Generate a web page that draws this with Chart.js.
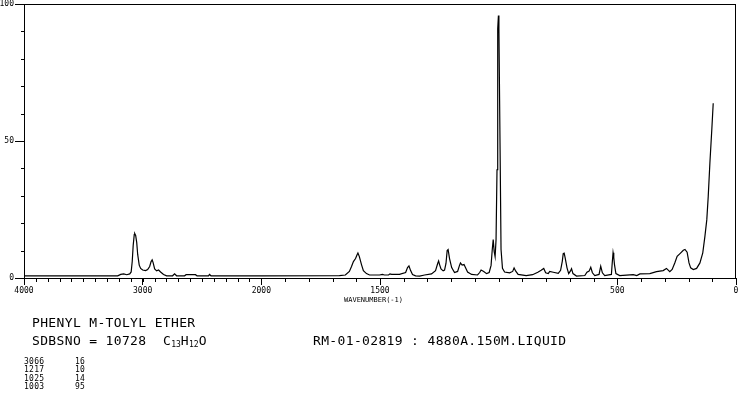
<!DOCTYPE html>
<html>
<head>
<meta charset="utf-8">
<script src="https://cdn.jsdelivr.net/npm/chart.js@4.4.1/dist/chart.umd.min.js"></script>
<style>
  body { margin: 0; background: #fff; width: 738px; height: 398px; overflow: hidden; position: relative; }
  #wrap { position: absolute; left: 0; top: 0; width: 738px; height: 300px; }
  .t { position: absolute; font-family: "DejaVu Sans Mono", monospace; color: #000; white-space: pre; line-height: 1; }
  .big { font-size: 13px; letter-spacing: 0.35px; }
  .small { font-size: 7px; }
  .tab { font-size: 8px; letter-spacing: 0.3px; }
  sub { font-size: 8px; vertical-align: -2px; line-height: 0; letter-spacing: 0; }
</style>
</head>
<body>
<div id="wrap"><canvas id="ramanChart"></canvas></div>
<div class="t small" style="left:344px; top:297px;">WAVENUMBER(-1)</div>
<div class="t big" style="left:32px; top:316px;">PHENYL M-TOLYL ETHER</div>
<div class="t big" style="left:32px; top:334px;">SDBSNO = 10728</div>
<div class="t big" style="left:163px; top:334px;">C<sub>13</sub>H<sub>12</sub>O</div>
<div class="t big" style="left:313px; top:334px;">RM-01-02819 : 4880A.150M.LIQUID</div>
<div id="peaks"></div>

<script>
// spectrum (wavenumber in cm-1, relative intensity)
const wavenumbers = [4000, 3210, 3185, 3160, 3134, 3109, 3097, 3088, 3080, 3071, 3067, 3059, 3050, 3042, 3029, 3017,
  3000, 2975, 2958, 2941, 2929, 2920, 2912, 2899, 2882, 2866, 2849, 2824, 2798, 2748, 2731, 2714, 2647, 2634, 2555,
  2542, 2445, 2437, 2424, 2000, 1671, 1646, 1629, 1620, 1612, 1603, 1597, 1593, 1587, 1578, 1570, 1557, 1544, 1502,
  1490, 1481, 1464, 1458, 1451, 1418, 1392, 1384, 1378, 1371, 1363, 1350, 1333, 1312, 1283, 1266, 1257, 1253, 1249,
  1243, 1234, 1228, 1222, 1217, 1213, 1207, 1198, 1186, 1173, 1165, 1161, 1154, 1146, 1140, 1131, 1114, 1089, 1080,
  1074, 1063, 1051, 1040, 1032, 1027, 1023, 1019, 1015, 1011, 1007, 1004, 1001, 999, 994, 990, 984, 975, 954, 941,
  935, 928, 918, 884, 857, 835, 821, 810, 802, 791, 785, 770, 749, 739, 732, 728, 724, 720, 712, 705, 698, 693, 687,
  672, 637, 628, 619, 612, 605, 595, 577, 570, 563, 553, 525, 522, 518, 515, 512, 506, 490, 433, 418, 405, 363, 335,
  307, 293, 279, 269, 258, 248, 236, 222, 215, 206, 198, 191, 180, 166, 152, 140, 131, 123, 117, 110, 102, 96];
const intensity = [0.8, 0.8, 1.3, 1.5, 1.2, 1.5, 2.2, 6.0, 11.8, 15.8, 16.2, 15.5, 12.9, 8.6, 4.7, 3.5,
  2.9, 2.7, 3.1, 4.2, 6.0, 6.6, 5.6, 3.3, 2.6, 2.9, 2.2, 1.3, 0.8, 0.8, 1.5, 0.8, 0.8, 1.2, 1.2,
  0.8, 0.8, 1.3, 0.8, 0.8, 0.9, 1.1, 2.4, 4.2, 6.0, 7.1, 8.4, 9.1, 7.8, 4.9, 2.7, 1.6, 1.1, 1.1,
  1.3, 1.1, 1.1, 1.5, 1.3, 1.3, 2.0, 3.8, 4.4, 2.7, 1.3, 0.8, 0.7, 1.1, 1.5, 2.7, 5.3, 6.2, 4.9,
  3.3, 2.6, 2.9, 5.3, 10.0, 10.4, 7.1, 3.8, 2.0, 2.4, 4.6, 5.5, 4.7, 4.9, 3.8, 2.2, 1.3, 1.1, 2.0,
  2.9, 2.4, 1.6, 2.0, 4.6, 10.4, 14.0, 9.7, 7.8, 14.0, 39.5, 91.0, 95.8, 91.0, 46.8, 10.4, 3.5, 2.2, 1.9, 2.4,
  3.7, 2.5, 1.3, 0.9, 1.2, 2.1, 2.8, 3.5, 1.9, 1.6, 2.4, 2.1, 1.7, 2.8, 6.1, 8.9, 9.1, 7.4, 3.7, 1.6, 2.5, 3.4, 1.6,
  0.7, 0.9, 2.1, 2.5, 3.9, 1.9, 0.9, 1.3, 4.3, 1.9, 0.9, 1.3, 4.9, 9.2, 7.5, 4.9, 1.6, 0.9, 1.2, 0.9, 1.5, 1.6, 2.3,
  2.7, 3.5, 2.3, 3.1, 5.5, 7.9, 8.9, 10.1, 10.4, 9.4, 5.5, 3.7, 3.1, 3.5, 5.5, 9.2, 15.2, 21.3, 29.8, 42.0, 54.1, 63.8];

// axis labels
const xMajorTicks = [4000, 3000, 2000, 1500, 500, 0];
const yMajorTicks = [0, 50, 100];

// peak table printed under the plot
const peakWn = ['3066', '1217', '1025', '1003'];
const peakInt = ['16', '10', '14', '95'];

// x axis is compressed by half above 2000 cm-1
class BreakScale extends Chart.LinearScale {
  static id = 'breakLinear';
  static defaults = Chart.LinearScale.defaults;
  getPixelForValue(v) {
    const u = v <= 2000 ? v : 2000 + (v - 2000) / 2;
    return this.getPixelForDecimal(1 - u / 3000);
  }
  getValueForPixel(p) {
    const u = (1 - (p - this._startPixel) / this._length) * 3000;
    return u <= 2000 ? u : 2000 + (u - 2000) * 2;
  }
}
Chart.register(BreakScale);

const peaks = document.getElementById('peaks');
peakWn.forEach((w, i) => {
  const top = 358 + i * 8.3;
  peaks.insertAdjacentHTML('beforeend',
    `<div class="t tab" style="left:24px; top:${top}px;">${w}</div>` +
    `<div class="t tab" style="left:75px; top:${top}px;">${peakInt[i]}</div>`);
});

// minor ticks and the top/right frame
const frameAndTicks = {
  id: 'frameAndTicks',
  afterDraw(chart) {
    const { ctx, chartArea: a, scales: { x, y } } = chart;
    ctx.save();
    ctx.strokeStyle = '#000';
    ctx.lineWidth = 1;
    ctx.beginPath();
    ctx.moveTo(a.left, Math.round(a.top) + 0.5);
    ctx.lineTo(a.right, Math.round(a.top) + 0.5);
    ctx.moveTo(Math.round(a.right) - 0.5, a.top);
    ctx.lineTo(Math.round(a.right) - 0.5, a.bottom);
    for (let v = 0; v <= 4000; v += 100) {
      const px = Math.round(x.getPixelForValue(v)) + 0.5;
      ctx.moveTo(px, a.bottom);
      ctx.lineTo(px, a.bottom + 4);
    }
    for (let v = 0; v <= 100; v += 10) {
      const py = Math.round(y.getPixelForValue(v)) + 0.5;
      ctx.moveTo(a.left, py);
      ctx.lineTo(a.left - 3, py);
    }
    ctx.stroke();
    ctx.restore();
  }
};

const tickFont = { family: 'DejaVu Sans Mono', size: 8, lineHeight: 1 };

new Chart(document.getElementById('ramanChart'), {
  type: 'line',
  data: {
    datasets: [{
      data: wavenumbers.map((w, i) => ({ x: w, y: intensity[i] })),
      borderColor: '#000',
      borderWidth: 1.2,
      pointRadius: 0,
      tension: 0,
      fill: false
    }]
  },
  options: {
    responsive: true,
    maintainAspectRatio: false,
    animation: false,
    layout: { padding: { top: 4, right: 2, left: 0, bottom: 0 } },
    plugins: { legend: { display: false }, tooltip: { enabled: false } },
    scales: {
      x: {
        type: 'breakLinear',
        min: 0,
        max: 4000,
        afterBuildTicks: (s) => { s.ticks = xMajorTicks.map(v => ({ value: v })); },
        afterFit: (s) => { s.height = 22; s.paddingLeft = 0; s.paddingRight = 0; },
        grid: { display: true, drawOnChartArea: false, drawTicks: true, tickLength: 7, color: '#000' },
        border: { display: true, color: '#000', width: 1 },
        ticks: { autoSkip: false, maxRotation: 0, padding: 2, color: '#000', font: tickFont, callback: v => String(v) }
      },
      y: {
        type: 'linear',
        min: 0,
        max: 100,
        afterBuildTicks: (s) => { s.ticks = yMajorTicks.map(v => ({ value: v })); },
        afterFit: (s) => { s.width = 24; s.paddingTop = 0; s.paddingBottom = 0; },
        grid: { display: true, drawOnChartArea: false, drawTicks: true, tickLength: 9, color: '#000' },
        border: { display: true, color: '#000', width: 1 },
        ticks: { padding: 1, color: '#000', font: tickFont, callback: v => String(v) }
      }
    }
  },
  plugins: [frameAndTicks]
});
</script>
</body>
</html>
